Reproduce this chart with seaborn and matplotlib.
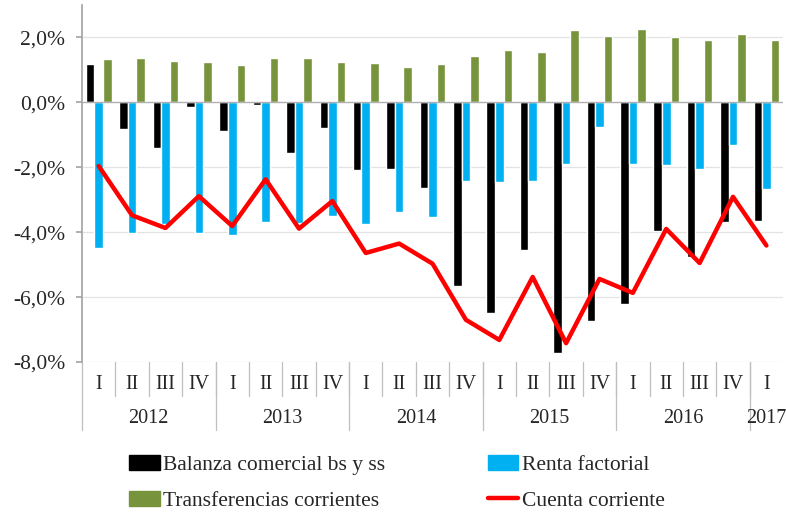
import numpy as np
import pandas as pd
import matplotlib
matplotlib.use("Agg")
import matplotlib.pyplot as plt
import matplotlib.transforms as mtransforms
from matplotlib.patches import Patch
from matplotlib.lines import Line2D
import seaborn as sns

# quarters 2012-I .. 2017-I, values in % of GDP
quarters = ["I", "II", "III", "IV"] * 5 + ["I"]
years = ["2012", "2013", "2014", "2015", "2016", "2017"]
year_len = [4, 4, 4, 4, 4, 1]

balanza = [1.18, -0.83, -1.39, -0.13, -0.89, -0.07, -1.55, -0.80, -2.08, -2.04, -2.63,
           -5.67, -6.49, -4.54, -7.73, -6.73, -6.20, -3.95, -4.77, -3.69, -3.64]
renta = [-4.48, -4.02, -3.76, -4.02, -4.09, -3.68, -3.72, -3.50, -3.76, -3.38, -3.52,
         -2.42, -2.44, -2.42, -1.89, -0.75, -1.89, -1.94, -2.06, -1.31, -2.66]
transf = [1.34, 1.36, 1.28, 1.25, 1.16, 1.36, 1.38, 1.24, 1.20, 1.08, 1.17,
          1.42, 1.62, 1.56, 2.23, 2.06, 2.27, 2.01, 1.91, 2.10, 1.93]
cuenta = [-1.96, -3.48, -3.87, -2.89, -3.81, -2.37, -3.89, -3.04, -4.64, -4.35, -4.97,
          -6.70, -7.32, -5.38, -7.42, -5.44, -5.87, -3.90, -4.95, -2.91, -4.41]

series = ["Balanza comercial bs y ss", "Renta factorial", "Transferencias corrientes"]
colors = ["#000000", "#00B0F0", "#77933C"]
line_name = "Cuenta corriente"
line_color = "#FF0000"

# unique key per quarter
keys = []
i = 0
for y, n in zip(years, year_len):
    for q in quarters[i:i + n]:
        keys.append(y + "-" + q)
    i += n

df = pd.DataFrame({"key": keys, series[0]: balanza, series[1]: renta, series[2]: transf})
long = df.melt(id_vars="key", var_name="serie", value_name="valor")

sns.set_theme(style="white")
plt.rcParams["font.family"] = ["Liberation Serif", "DejaVu Serif"]

fig = plt.figure(figsize=(7.86, 5.14), dpi=100)
ax = fig.add_axes([0.1043, 0.2957, 0.892, 0.6945])

sns.barplot(data=long, x="key", y="valor", hue="serie", hue_order=series, order=keys,
            palette=colors, saturation=1, width=0.77, legend=False, ax=ax)
sns.lineplot(x=np.arange(len(keys)), y=cuenta, color=line_color, linewidth=3.2, ax=ax)

ax.set_ylim(-8, 3)
ax.set_xlim(-0.5, len(keys) - 0.5)
yt = [-8, -6, -4, -2, 0, 2]
ax.set_yticks(yt)
ax.set_yticklabels([f"{v:.1f}%".replace(".", ",") for v in yt])
ax.tick_params(axis="y", left=True, length=4, color="#A6A6A6", labelsize=15.5, pad=8)
ax.set_xticks([])
ax.set_xlabel("")
ax.set_ylabel("")
for v in yt:
    if v != 0:
        ax.axhline(v, color="#E3E3E3", linewidth=0.9, zorder=0)
ax.axhline(0, color="#B0B0B0", linewidth=1.0, zorder=1)

for s in ["top", "right", "bottom"]:
    ax.spines[s].set_visible(False)
ax.spines["left"].set_color("#A6A6A6")

# multi-level category axis
trans = mtransforms.blended_transform_factory(ax.transData, ax.transAxes)
for k, q in enumerate(quarters):
    ax.text(k, -0.064, q, transform=trans, ha="center", va="center", fontsize=14.5)
for k in range(1, len(keys)):
    ax.plot([k - 0.5, k - 0.5], [0, -0.095], transform=trans, color="#BFBFBF",
            linewidth=0.9, clip_on=False)
start = 0
for y, n in zip(years, year_len):
    ax.text(start + (n - 1) / 2, -0.157, y, transform=trans, ha="center", va="center",
            fontsize=14.5)
    ax.plot([start - 0.5, start - 0.5], [0, -0.19], transform=trans, color="#BFBFBF",
            linewidth=0.9, clip_on=False)
    start += n

handles = [Patch(color=colors[0], label=series[0]),
           Patch(color=colors[2], label=series[2]),
           Patch(color=colors[1], label=series[1]),
           Line2D([0], [0], color=line_color, linewidth=3.2, label=line_name)]
fig.legend(handles=handles, ncol=2, loc="center", bbox_to_anchor=(0.505, 0.061),
           frameon=False, fontsize=15.5, handlelength=1.4, handletextpad=0.15,
           columnspacing=4.8, labelspacing=0.75, borderpad=0)

fig.savefig("out.png", dpi=100, facecolor="white")
